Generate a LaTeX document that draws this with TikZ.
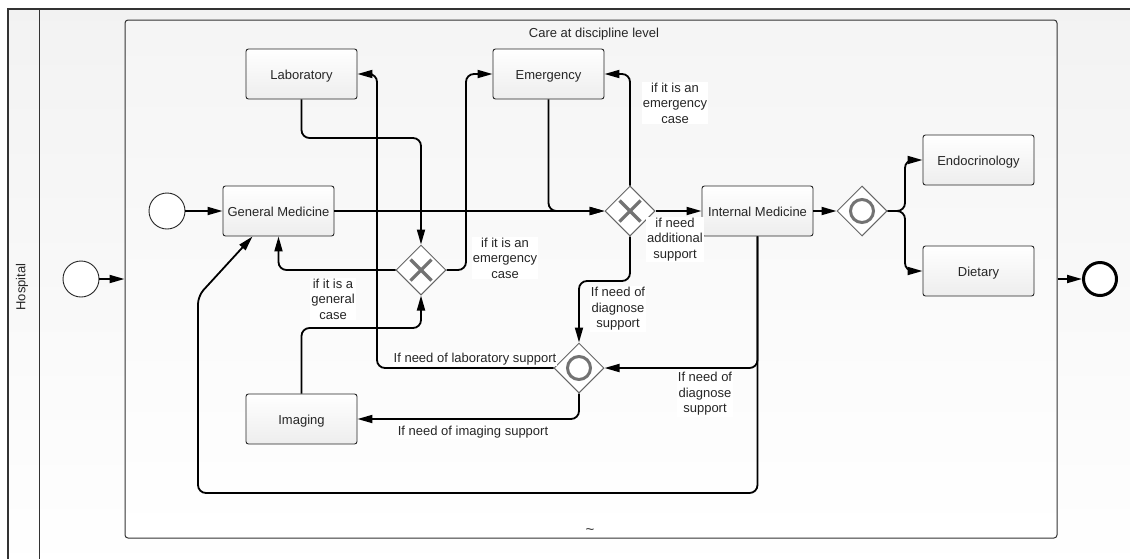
\documentclass[tikz,border=0pt]{standalone}
\usepackage{fontspec}
\setmainfont{Liberation Sans}
\usetikzlibrary{shapes.geometric,arrows.meta,calc}

\begin{document}
\begin{tikzpicture}[x=1pt,y=-1pt,
  font=\fontsize{13}{15.5}\selectfont,
  task/.style={draw=black!85, line width=0.9pt, rounded corners=2.5pt,
    top color=white, bottom color=black!7, minimum width=111pt,
    minimum height=50pt, inner sep=0pt, text=black!85,
    text height=11.5pt, text depth=0pt},
  gate/.style={diamond, draw=black!60, line width=1pt, fill=white,
    minimum width=50pt, minimum height=50pt, inner sep=0pt},
  xmark/.style={black!55, line width=3.2pt},
  omark/.style={black!55, line width=3pt},
  event/.style={circle, draw=black!85, line width=0.9pt, fill=white,
    minimum size=36pt, inner sep=0pt},
  endevent/.style={circle, draw=black, line width=3pt, fill=white,
    minimum size=33pt, inner sep=0pt},
  flow/.style={draw=black, line width=1.8pt, rounded corners=8pt,
    -{Triangle[length=15pt,width=8pt]}},
  cond/.style={fill=white, inner sep=1pt, align=center, text=black!85,
    yshift=-2pt},
]
\useasboundingbox (0,0) rectangle (1130,558);
\fill[white] (0,0) rectangle (1130,558);

% pool and lane
\path[top color=black!5, bottom color=white] (8,9) rectangle (1150,575);
\draw[black!80, line width=1.2pt] (1150,9) -- (8,9) -- (8,575);
\draw[black!80, line width=1pt] (39,9) -- (39,575);
\node[rotate=90, text=black!85] (pool) at (22,287) {Hospital};

% sub-process (ad-hoc)
\node[draw=black!80, line width=1pt, rounded corners=3pt,
  top color=black!4, bottom color=white,
  minimum width=932pt, minimum height=518pt, inner sep=0pt] (sub) at (591,279) {};
\node[text=black!85] (title) at (594,34) {Care at discipline level};
\node[text=black!80, font=\fontsize{15}{15}\selectfont, inner sep=0pt] (adhoc) at (590,532) {\textasciitilde};

% events
\node[event] (s0) at (81,279) {};
\node[endevent] (e0) at (1100,279) {};
\node[event] (s1) at (167,211) {};

% tasks
\node[task] (gm)   at (278.5,211) {General Medicine};
\node[task] (lab)  at (301.5,74)  {Laboratory};
\node[task] (em)   at (548.5,74)  {Emergency};
\node[task] (im)   at (757.5,211) {Internal Medicine};
\node[task] (endo) at (978.5,160) {Endocrinology};
\node[task] (diet) at (978.5,271) {Dietary};
\node[task] (img)  at (301.5,419) {Imaging};

% gateways
\node[gate] (x1) at (421,270) {};
\node[gate] (x2) at (630,211) {};
\node[gate] (g3) at (862,211) {};
\node[gate] (g4) at (579,368) {};
\foreach \g in {x1,x2}{
  \draw[xmark] (\g.center) +(-10.5,-10.5) -- +(10.5,10.5);
  \draw[xmark] (\g.center) +(-10.5,10.5) -- +(10.5,-10.5);
}
\foreach \g in {g3,g4}{
  \draw[omark] (\g.center) circle[radius=11.5pt];
}

% sequence flows
\path[flow] (s0) -- (s0 -| sub.west);
\path[flow] (sub.east |- e0) -- (e0);
\path[flow] (s1) -- (gm.west);
\path[flow] (gm.east) -- (x2.west);
\path[flow] (em.south) |- (x2.west);
\path[flow] (x2.north) |- (em.east);
\path[flow] (x2.east) -- (im.west);
\path[flow] (im.east) -- (g3.west);
\path[flow] (g3.east) -- (905,211) |- (endo.west);
\path[flow] (g3.east) -- (905,211) |- (diet.west);
\path[flow] (lab.south) |- (421,138) -- (x1.north);
\path[flow] (x1.west) -| (gm.south);
\path[flow] (x1.east) -- (466,270) |- (em.west);
\path[flow] (img.north) |- (421,328) -- (x1.south);
\path[flow] (x2.south) -- (630,281) -| (g4.north);
\path[flow] (im.south) |- (g4.east);
\path[flow] (im.south) -- (757.5,493) -- (198,493) -- (198,296) -- ($(gm.south west)+(30,0)$);
\path[flow] (g4.west) -- (377,368) |- (lab.east);
\path[flow] (g4.south) |- (img.east);

% conditions
\node[cond] (c1) at (505,256)   {if it is an\\emergency\\case};
\node[cond] (c2) at (333,297)   {if it is a\\general\\case};
\node[cond] (c3) at (675,101)   {if it is an\\emergency\\case};
\node[cond] (c4) at (675,237.5) {if need\\additional\\support};
\node[cond] (c5) at (618,307)   {If need of\\diagnose\\support};
\node[cond] (c6) at (705,392)   {If need of\\diagnose\\support};
\node[cond] (c7) at (475,357)   {If need of laboratory support};
\node[cond] (c8) at (473,430)   {If need of imaging support};
\end{tikzpicture}
\end{document}
